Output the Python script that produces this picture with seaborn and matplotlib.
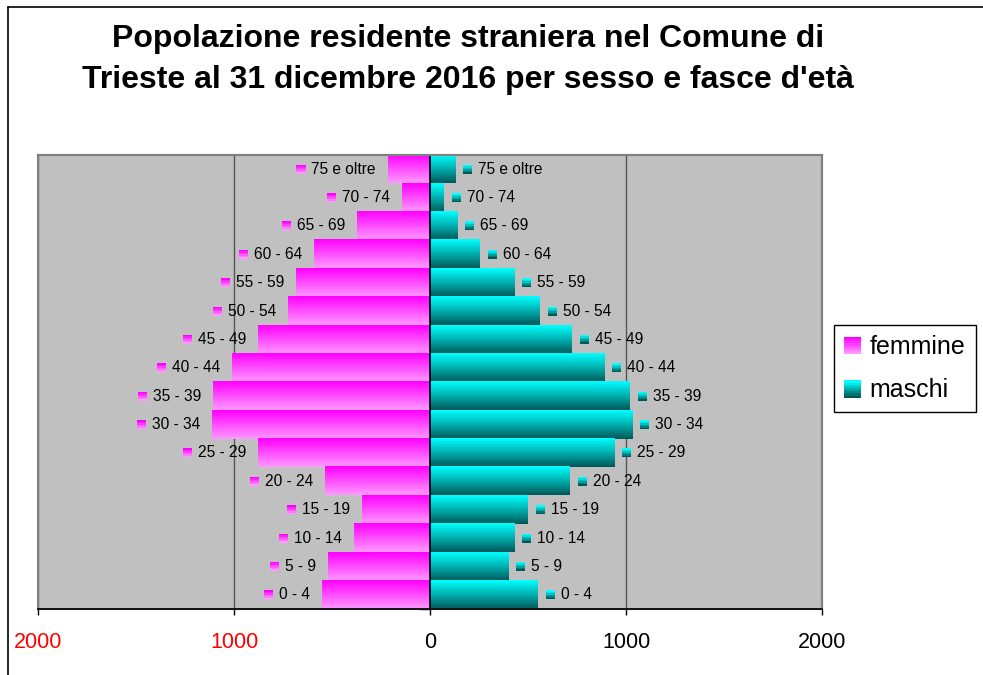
import numpy as np
import pandas as pd
import matplotlib
matplotlib.use('Agg')
import matplotlib.pyplot as plt
import seaborn as sns
from matplotlib.patches import Rectangle
from matplotlib.lines import Line2D
from matplotlib.colors import LinearSegmentedColormap
from matplotlib.offsetbox import AnnotationBbox, HPacker, TextArea, DrawingArea

eta = ['75 e oltre', '70 - 74', '65 - 69', '60 - 64', '55 - 59', '50 - 54',
       '45 - 49', '40 - 44', '35 - 39', '30 - 34', '25 - 29', '20 - 24',
       '15 - 19', '10 - 14', '5 - 9', '0 - 4']
femmine = [216, 145, 374, 594, 685, 724, 879, 1010, 1107, 1114, 879, 536, 349, 389, 522, 553]
maschi = [131, 71, 141, 255, 429, 561, 724, 888, 1020, 1031, 939, 714, 500, 429, 398, 551]
sessi = ['femmine', 'maschi']
xticks = [-2000, -1000, 0, 1000, 2000]
xlabels = ['2000', '1000', '0', '1000', '2000']

df = pd.DataFrame({
    'eta': eta * 2,
    'sesso': ['femmine'] * len(eta) + ['maschi'] * len(eta),
    'valore': [-v for v in femmine] + maschi,
})

# top -> bottom colour of each bar gradient
cmaps = {
    'femmine': LinearSegmentedColormap.from_list('f', ['#FF00FF', '#FF99FF']),
    'maschi': LinearSegmentedColormap.from_list('m', ['#00FFFF', '#00B0B0', '#005858']),
}

sns.set_style('white')
plt.rcParams['font.family'] = ['Liberation Sans', 'DejaVu Sans']
plt.rcParams['text.color'] = 'black'

fig = plt.figure(figsize=(9.83, 6.75), dpi=100)
ax = fig.add_axes([38 / 983, 66 / 675, 784 / 983, 454 / 675])

sns.barplot(data=df, x='valore', y='eta', hue='sesso', order=eta, hue_order=sessi,
            dodge=False, width=1.0, orient='h', errorbar=None, saturation=1,
            palette={'femmine': '#FF66FF', 'maschi': '#00AAAA'}, legend=False, ax=ax)

ax.set_xlim(-2000, 2000)
ax.set_ylim(len(eta) - 0.5, -0.5)

# gradient fill over each bar + data label with key
grad = np.linspace(0, 1, 64).reshape(-1, 1)


def key_area(cmap, size=6.5, n=6):
    da = DrawingArea(size, size, 0, 0)
    for i in range(n):
        da.add_artist(Rectangle((0, size * (n - 1 - i) / n), size, size / n,
                                facecolor=cmap(i / (n - 1)), edgecolor='none'))
    return da


for p in list(ax.patches):
    w = p.get_width()
    if w == 0:
        continue
    sex = 'femmine' if w < 0 else 'maschi'
    x0, x1 = sorted([p.get_x(), p.get_x() + w])
    y0, y1 = p.get_y(), p.get_y() + p.get_height()
    ax.imshow(grad, cmap=cmaps[sex], extent=(x0, x1, y1, y0), origin='upper',
              aspect='auto', interpolation='bilinear', zorder=1)
    p.set_facecolor('none')
    p.set_edgecolor('none')
    p.set_linewidth(0)
    yc = (y0 + y1) / 2
    name = eta[int(round(yc))]
    box = HPacker(children=[key_area(cmaps[sex]),
                            TextArea(name, textprops=dict(fontsize=11.2, color='black'))],
                  align='center', pad=0, sep=4.3)
    if sex == 'maschi':
        ab = AnnotationBbox(box, (w, yc), xybox=(5.5, 0), boxcoords='offset points',
                            box_alignment=(0, 0.5), frameon=False, pad=0, annotation_clip=False)
    else:
        ab = AnnotationBbox(box, (w, yc), xybox=(-8.4, 0), boxcoords='offset points',
                            box_alignment=(1, 0.5), frameon=False, pad=0, annotation_clip=False)
    ab.set_zorder(4)
    ax.add_artist(ab)

ax.set_xlim(-2000, 2000)
ax.set_ylim(len(eta) - 0.5, -0.5)

# axes styling
ax.set_facecolor('#C0C0C0')
ax.set_axisbelow(True)
ax.xaxis.grid(True, color='#555555', lw=1)
ax.yaxis.grid(False)
ax.set_xticks(xticks)
ax.set_xticklabels(xlabels)
for lab, v in zip(ax.get_xticklabels(), xticks):
    lab.set_color('red' if v < 0 else 'black')
ax.tick_params(axis='x', bottom=True, direction='out', length=4.3, width=1,
               color='black', pad=12, labelsize=15.5)
ax.set_yticks(np.arange(len(eta) + 1) - 0.5)
ax.set_yticklabels([])
ax.tick_params(axis='y', left=True, direction='out', length=7.5, width=1, color='black')
ax.set_xlabel('')
ax.set_ylabel('')

ax.spines['left'].set_position(('data', 0))
ax.spines['left'].set_color('black')
ax.spines['left'].set_linewidth(1.2)
ax.spines['bottom'].set_color('black')
ax.spines['bottom'].set_linewidth(1.2)
for s in ['top', 'right']:
    ax.spines[s].set_color('#808080')
    ax.spines[s].set_linewidth(1.5)
ax.add_patch(Rectangle((0, 0), 1, 1, transform=ax.transAxes, fill=False,
                       edgecolor='#808080', lw=1.5, clip_on=False, zorder=2.4))

# title
fig.text(468 / 983, 1 - 47 / 675, 'Popolazione residente straniera nel Comune di',
         ha='center', va='baseline', fontsize=23, fontweight='bold', color='black')
fig.text(468 / 983, 1 - 88 / 675, "Trieste al 31 dicembre 2016 per sesso e fasce d'età",
         ha='center', va='baseline', fontsize=23, fontweight='bold', color='black')


# legend with gradient keys
class GradientHandler:
    def __init__(self, cmap):
        self.cmap = cmap

    def legend_artist(self, legend, orig_handle, fontsize, handlebox):
        x0, y0 = handlebox.xdescent, handlebox.ydescent
        w, h = handlebox.width, handlebox.height
        n = 8
        r = None
        for i in range(n):
            r = Rectangle((x0, y0 + h * (n - 1 - i) / n), w, h / n,
                          facecolor=self.cmap(i / (n - 1)), edgecolor='none',
                          transform=handlebox.get_transform())
            handlebox.add_artist(r)
        return r


handles = [Rectangle((0, 0), 1, 1) for _ in sessi]
leg = fig.legend(handles, sessi, loc='upper left',
                 bbox_to_anchor=(834 / 983, 1 - 325 / 675), bbox_transform=fig.transFigure,
                 handler_map={h: GradientHandler(cmaps[s]) for h, s in zip(handles, sessi)},
                 fontsize=18, frameon=True, fancybox=False, edgecolor='black',
                 framealpha=1, handlelength=0.68, handleheight=0.68, handletextpad=0.35,
                 borderpad=0.4, labelspacing=0.78, borderaxespad=0)
leg.get_frame().set_linewidth(1)
for t in leg.get_texts():
    t.set_color('black')

# chart-area border
fig.add_artist(Line2D([8 / 983, 8 / 983], [0, 1 - 7 / 675], color='black', lw=1.2,
                      transform=fig.transFigure))
fig.add_artist(Line2D([8 / 983, 1], [1 - 7 / 675, 1 - 7 / 675], color='black', lw=1.2,
                      transform=fig.transFigure))

fig.savefig('out.png', dpi=100)
